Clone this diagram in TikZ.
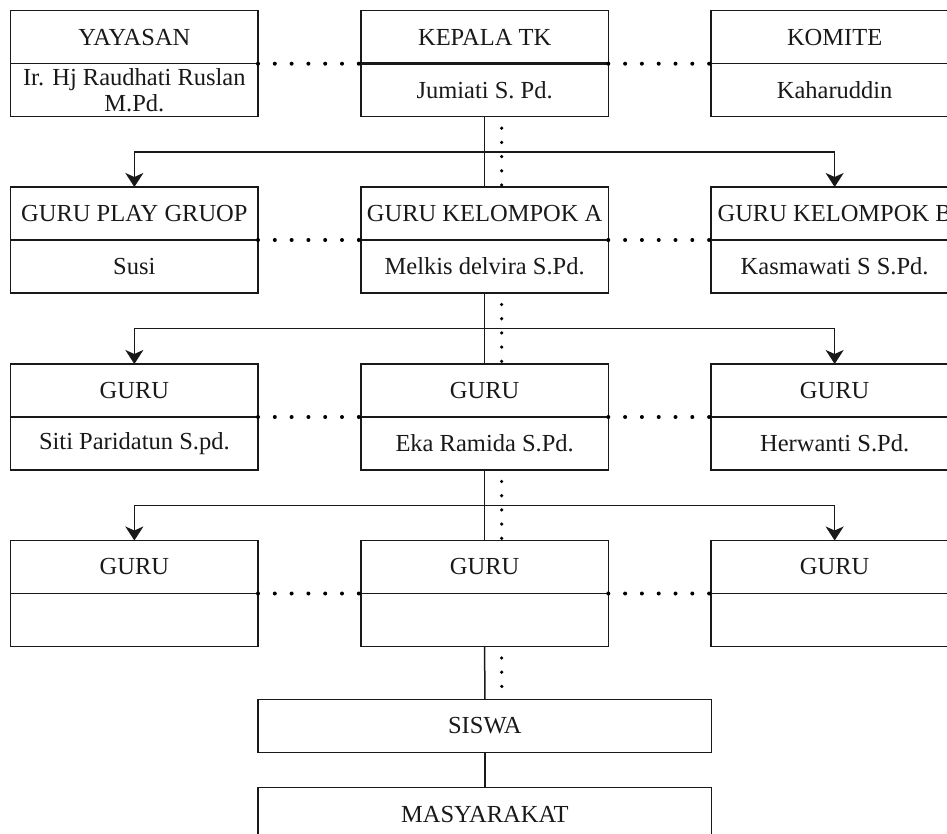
\documentclass[tikz,border=0pt]{standalone}
\usepackage{fontspec}
\setmainfont{Liberation Serif}
\usetikzlibrary{arrows.meta,calc}
\tikzset{
  boxpart/.style={draw=black!90, line width=1.5pt, minimum width=247.3pt, minimum height=53pt,
    inner sep=0pt, outer sep=0pt, anchor=north west, text=black!90,
    font=\fontsize{24.5}{26}\selectfont, align=center},
  widebox/.style={boxpart, minimum width=453.7pt},
  solidline/.style={draw=black!90, line width=1.5pt},
  arr/.style={solidline, -{Stealth[length=14pt,width=18pt,inset=4pt]}},
  dotsh/.style={draw=black, line width=4pt, line cap=round, dash pattern=on 0pt off 16.8pt},
  dotsv/.style={draw=black, line width=3.6pt, line cap=round, dash pattern=on 0pt off 14.2pt}
}
\begin{document}
\begin{tikzpicture}[x=1pt,y=-1pt]
\useasboundingbox (0,0) rectangle (947,834);
\fill[white] (0,0) rectangle (947,834);
\clip (0,0) rectangle (947,834);
% row 1
\node[boxpart] (yayT) at (10.7,10.7) {YAYASAN};
\node[boxpart] (yayB) at (yayT.south west) {Ir. Hj Raudhati Ruslan\\M.Pd.};
\node[boxpart] (kepT) at (361,10.7) {KEPALA TK};
\node[boxpart] (kepB) at (kepT.south west) {Jumiati S. Pd.};
\node[boxpart] (komT) at (711,10.7) {KOMITE};
\node[boxpart] (komB) at (komT.south west) {Kaharuddin};
\draw[black!90, line width=3pt] (kepT.south west) -- (kepT.south east);
% row 2
\node[boxpart] (pgT) at (10.7,187) {GURU PLAY GRUOP};
\node[boxpart] (pgB) at (pgT.south west) {Susi};
\node[boxpart] (kaT) at (361,187) {GURU KELOMPOK A};
\node[boxpart] (kaB) at (kaT.south west) {Melkis delvira S.Pd.};
\node[boxpart] (kbT) at (711,187) {GURU KELOMPOK B};
\node[boxpart] (kbB) at (kbT.south west) {Kasmawati S S.Pd.};
% row 3
\node[boxpart] (g1T) at (10.7,364) {GURU};
\node[boxpart] (g1B) at (g1T.south west) {Siti Paridatun S.pd.};
\node[boxpart] (g2T) at (361,364) {GURU};
\node[boxpart] (g2B) at (g2T.south west) {Eka Ramida S.Pd.};
\node[boxpart] (g3T) at (711,364) {GURU};
\node[boxpart] (g3B) at (g3T.south west) {Herwanti S.Pd.};
% row 4
\node[boxpart] (g4T) at (10.7,540.5) {GURU};
\node[boxpart] (g4B) at (g4T.south west) {};
\node[boxpart] (g5T) at (361,540.5) {GURU};
\node[boxpart] (g5B) at (g5T.south west) {};
\node[boxpart] (g6T) at (711,540.5) {GURU};
\node[boxpart] (g6B) at (g6T.south west) {};
% bottom
\node[widebox] (sis) at (258,699.3) {SISWA};
\node[widebox] (mas) at (258,787.7) {MASYARAKAT};
% horizontal dotted links
\foreach \a/\b in {yayT/kepT, kepT/komT, pgT/kaT, kaT/kbT, g1T/g2T, g2T/g3T, g4T/g5T, g5T/g6T}
  \draw[dotsh] (\a.south east) -- (\b.south west);
% vertical links
\foreach \u/\d/\l/\r in {kepB/kaT/pgT/kbT, kaB/g2T/g1T/g3T, g2B/g5T/g4T/g6T}{
  \draw[solidline] (\u.south) -- (\d.north);
  \draw[dotsv] ([xshift=17pt,yshift=-11.5pt]\u.south) -- ([xshift=17pt]\d.north);
  \draw[arr] ($(\u.south)!0.5!(\d.north)$) -| (\l.north);
  \draw[arr] ($(\u.south)!0.5!(\d.north)$) -| (\r.north);
}
\draw[solidline] (g5B.south) -- (sis.north);
\draw[dotsv] ([xshift=17pt,yshift=-11.5pt]g5B.south) -- ([xshift=17pt]sis.north);
\draw[solidline] (sis.south) -- (mas.north);
\end{tikzpicture}
\end{document}
